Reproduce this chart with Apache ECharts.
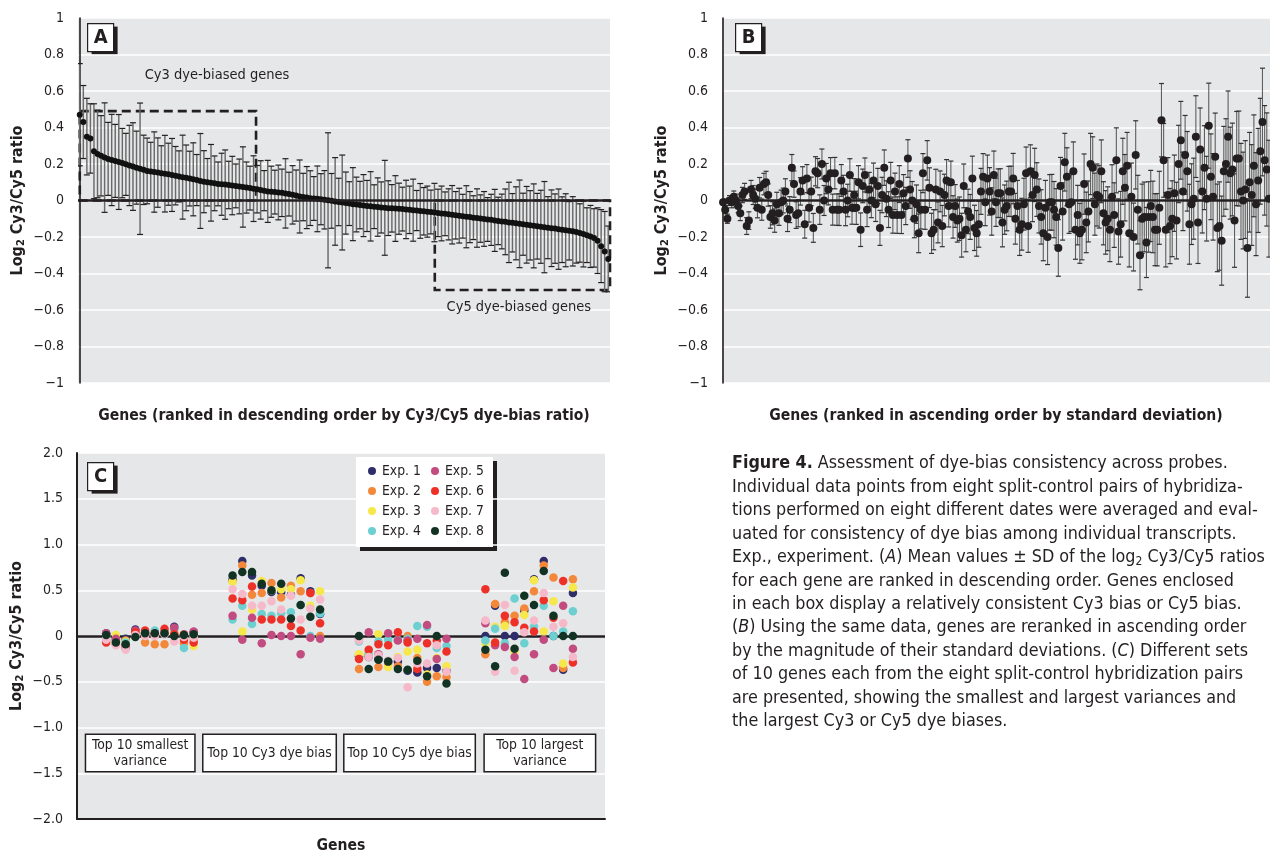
<!DOCTYPE html>
<html><head><meta charset="utf-8">
<script src="https://cdn.jsdelivr.net/npm/echarts/dist/echarts.min.js"></script>
<style>html,body{margin:0;padding:0;background:#fff}#c{width:1270px;height:855px}</style>
</head><body><div id="c"></div><script>
// ---------- DATA ----------
// Panel A: genes ranked by mean log2 Cy3/Cy5 (descending)
const aMean = [0.47,0.43,0.35,0.34,0.27,0.255,0.245,0.235,0.228,0.222,
0.217,0.211,0.205,0.198,0.192,0.186,0.18,0.174,0.168,0.162,
0.159,0.156,0.153,0.15,0.147,0.144,0.14,0.136,0.132,0.128,
0.124,0.12,0.116,0.112,0.107,0.103,0.1,0.097,0.094,0.091,
0.089,0.087,0.085,0.082,0.08,0.077,0.074,0.071,0.068,0.065,
0.062,0.058,0.054,0.05,0.048,0.046,0.044,0.042,0.039,0.035,
0.031,0.027,0.022,0.019,0.016,0.013,0.011,0.009,0.007,0.004,
0.001,-0.002,-0.005,-0.008,-0.011,-0.014,-0.017,-0.02,-0.022,-0.025,
-0.028,-0.03,-0.032,-0.034,-0.036,-0.038,-0.04,-0.042,-0.043,-0.044,
-0.045,-0.047,-0.049,-0.051,-0.053,-0.055,-0.057,-0.059,-0.061,-0.063,
-0.066,-0.068,-0.071,-0.073,-0.076,-0.078,-0.081,-0.083,-0.086,-0.089,
-0.091,-0.094,-0.096,-0.099,-0.101,-0.104,-0.106,-0.109,-0.112,-0.115,
-0.117,-0.12,-0.122,-0.125,-0.128,-0.13,-0.133,-0.136,-0.139,-0.141,
-0.144,-0.146,-0.149,-0.152,-0.154,-0.157,-0.16,-0.163,-0.166,-0.169,
-0.173,-0.178,-0.184,-0.19,-0.197,-0.205,-0.22,-0.25,-0.28,-0.32];
const aSD = [0.28,0.2,0.21,0.19,0.26,0.24,0.22,0.3,0.2,0.25,
0.2,0.26,0.19,0.17,0.22,0.24,0.2,0.36,0.19,0.18,
0.16,0.22,0.19,0.15,0.21,0.17,0.2,0.16,0.14,0.23,
0.18,0.15,0.2,0.14,0.26,0.17,0.13,0.21,0.15,0.12,
0.17,0.19,0.13,0.16,0.12,0.15,0.22,0.14,0.12,0.18,
0.13,0.16,0.11,0.17,0.14,0.12,0.15,0.13,0.19,0.12,
0.16,0.14,0.2,0.13,0.17,0.15,0.12,0.18,0.14,0.16,
0.37,0.15,0.24,0.13,0.26,0.17,0.12,0.2,0.15,0.13,
0.17,0.14,0.19,0.12,0.16,0.14,0.26,0.15,0.13,0.18,
0.14,0.12,0.16,0.13,0.17,0.11,0.15,0.13,0.14,0.12,
0.16,0.13,0.15,0.12,0.14,0.16,0.13,0.15,0.12,0.17,
0.14,0.12,0.16,0.13,0.15,0.12,0.14,0.17,0.13,0.15,
0.18,0.22,0.16,0.2,0.24,0.17,0.21,0.19,0.23,0.18,
0.2,0.25,0.17,0.21,0.19,0.22,0.18,0.2,0.16,0.19,
0.17,0.16,0.18,0.15,0.17,0.16,0.18,0.2,0.22,0.18];
// Dashed boxes in panel A (gene-index range, value range)
const cy3Box = {from: 0, to: 49.7, top: 0.49, bottom: 0};
const cy5Box = {from: 100.1, to: 149.5, top: 0, bottom: -0.49};
const aNotes = [{text: 'Cy3 dye-biased genes', gene: 38.7, value: 0.685},
                {text: 'Cy5 dye-biased genes', gene: 123.8, value: -0.585}];

// Panel B: genes ranked by SD (ascending)
const bMean = [-0.01,-0.05,-0.1,0.0,-0.01,0.02,0.0,-0.03,-0.07,0.03,
0.05,-0.14,-0.11,0.06,0.03,0.01,-0.04,0.07,-0.05,0.09,
0.1,0.03,-0.09,-0.07,-0.11,-0.02,-0.07,-0.01,0.0,0.05,
-0.1,-0.05,0.18,0.09,-0.08,-0.07,0.05,0.11,-0.13,0.12,
-0.04,0.05,-0.15,0.16,0.15,-0.05,0.2,0.0,0.12,0.06,
0.15,-0.05,0.15,-0.05,-0.05,0.11,0.05,-0.05,0.0,0.14,
-0.04,0.03,-0.04,0.1,-0.16,0.08,0.14,-0.05,0.06,0.0,
0.11,-0.02,0.08,-0.15,0.03,0.18,0.01,-0.05,0.11,-0.08,
0.05,-0.08,0.09,-0.08,0.04,-0.03,0.23,0.06,0.0,-0.1,
-0.02,-0.18,-0.05,0.15,-0.05,0.22,0.07,-0.18,-0.16,0.06,
-0.12,0.05,-0.14,0.03,0.11,-0.03,0.1,-0.09,-0.03,-0.11,
-0.1,-0.19,0.08,-0.16,-0.06,-0.09,0.12,-0.15,-0.18,-0.13,
0.05,0.13,-0.01,0.12,
0.05,-0.06,0.14,-0.01,0.04,0.04,-0.12,-0.05,-0.03,0.05,
0.05,0.12,-0.1,-0.03,-0.16,-0.13,-0.02,0.15,-0.14,0.16,
0.03,0.14,0.06,-0.03,-0.09,-0.18,-0.04,-0.2,-0.01,-0.01,
-0.05,-0.09,-0.26,0.08,-0.06,0.21,0.13,-0.02,-0.01,0.16,
-0.16,-0.08,-0.18,-0.16,0.09,-0.12,-0.06,0.2,0.18,-0.02,
0.03,0.02,0.16,-0.07,-0.12,-0.1,-0.16,0.02,-0.08,0.22,
-0.17,-0.13,0.16,0.07,0.19,-0.18,0.02,-0.2,0.25,-0.05,
-0.3,-0.1,-0.09,-0.23,-0.09,-0.03,-0.09,-0.16,-0.16,-0.04,
0.44,0.22,-0.16,0.03,-0.14,-0.1,0.04,-0.11,0.2,0.33,
0.05,0.25,0.16,-0.13,-0.02,0.01,0.35,-0.12,0.28,0.05,
0.18,0.01,0.41,0.13,0.02,0.24,-0.15,-0.14,-0.22,0.16,
0.2,0.35,0.15,0.17,-0.11,0.23,0.23,0.05,0.0,0.06,
-0.26,0.1,0.03,0.19,-0.02,0.11,0.27,0.43,0.22,0.17,
0.01];
const bSD = [0.02,0.022,0.025,0.027,0.03,0.032,0.035,0.037,0.04,0.042,
0.044,0.046,0.048,0.05,0.052,0.053,0.055,0.056,0.058,0.059,
0.06,0.061,0.062,0.063,0.064,0.065,0.066,0.067,0.068,0.069,
0.07,0.071,0.072,0.072,0.073,0.074,0.075,0.075,0.076,0.077,
0.078,0.078,0.079,0.08,0.08,0.081,0.082,0.082,0.083,0.084,
0.085,0.085,0.086,0.086,0.087,0.087,0.088,0.088,0.089,0.089,
0.09,0.09,0.091,0.091,0.092,0.092,0.093,0.093,0.094,0.094,
0.095,0.095,0.096,0.096,0.097,0.097,0.098,0.098,0.099,0.099,
0.1,0.1,0.101,0.101,0.102,0.102,0.103,0.103,0.104,0.104,
0.105,0.106,0.106,0.107,0.108,0.108,0.109,0.11,0.11,0.111,
0.112,0.112,0.113,0.114,0.114,0.115,0.116,0.116,0.117,0.118,
0.119,0.12,0.12,0.121,0.122,0.123,0.123,0.124,0.125,0.126,
0.126,0.127,0.128,0.129,0.13,0.13,0.131,0.132,0.133,0.134,
0.134,0.135,0.136,0.137,0.138,0.138,0.139,0.14,0.141,0.142,
0.142,0.143,0.144,0.145,0.146,0.146,0.147,0.148,0.149,0.15,
0.15,0.151,0.152,0.153,0.154,0.155,0.155,0.156,0.157,0.158,
0.159,0.16,0.16,0.161,0.162,0.163,0.164,0.165,0.165,0.166,
0.167,0.168,0.169,0.17,0.17,0.171,0.172,0.173,0.174,0.175,
0.175,0.176,0.177,0.178,0.179,0.18,0.181,0.182,0.183,0.184,
0.185,0.186,0.187,0.188,0.189,0.19,0.191,0.192,0.193,0.195,
0.196,0.197,0.198,0.2,0.201,0.202,0.204,0.205,0.206,0.208,
0.209,0.21,0.212,0.213,0.215,0.216,0.218,0.219,0.221,0.222,
0.224,0.225,0.227,0.228,0.23,0.232,0.233,0.235,0.237,0.239,
0.24,0.242,0.244,0.246,0.248,0.25,0.252,0.254,0.256,0.258,
0.26,0.263,0.265,0.268,0.27,0.273,0.276,0.279,0.282,0.285,
0.29,0.295,0.3,0.31,0.32];

// Panel C: 4 groups x 10 genes, 8 experiments
const cGroups = ['Top 10 smallest\nvariance', 'Top 10 Cy3 dye bias', 'Top 10 Cy5 dye bias', 'Top 10 largest\nvariance'];
const cGroupLabelPos = [6.5, 19.8, 34.2, 47.6];
const cGroupLabelWidth = [111, 135, 133, 113];
const expNames = ['Exp. 1','Exp. 2','Exp. 3','Exp. 4','Exp. 5','Exp. 6','Exp. 7','Exp. 8'];
const exp1 = [0.03,-0.04,-0.03,0.07,0.04,0.02,0.03,0.1,0.0,0.04,
  0.62,0.82,0.66,0.55,0.48,0.48,0.45,0.63,0.49,0.24,
  -0.22,-0.23,-0.25,-0.28,-0.28,-0.38,-0.4,-0.35,-0.35,-0.38,
  0.0,0.33,0.0,0.0,0.28,0.62,0.82,0.0,-0.37,0.47];
const exp2 = [-0.05,-0.06,-0.05,0.02,-0.07,-0.09,-0.09,0.03,-0.08,-0.03,
  0.6,0.77,0.45,0.47,0.58,0.42,0.55,0.49,0.47,0.0,
  -0.36,-0.2,-0.34,-0.3,-0.33,0.0,-0.24,-0.5,-0.44,-0.45,
  -0.2,0.35,0.15,0.22,0.3,0.49,0.77,0.64,-0.35,0.62];
const exp3 = [0.0,0.01,-0.06,0.0,0.03,0.02,0.05,0.04,0.02,-0.11,
  0.59,0.05,0.29,0.6,0.5,0.51,0.51,0.61,0.33,0.49,
  -0.2,-0.18,0.02,-0.34,-0.23,-0.17,-0.15,-0.42,-0.24,-0.33,
  -0.08,0.1,0.11,-0.17,0.23,0.61,0.05,0.38,-0.3,0.53];
const exp4 = [-0.02,-0.05,-0.07,0.03,0.03,0.06,0.02,0.08,-0.13,0.0,
  0.18,0.33,0.13,0.24,0.22,0.25,0.26,0.34,0.0,0.25,
  -0.06,-0.2,-0.06,-0.04,-0.04,-0.03,0.11,0.1,-0.13,-0.11,
  -0.05,0.08,-0.08,0.41,-0.08,0.1,0.33,0.0,0.05,0.27];
const exp5 = [0.03,-0.03,-0.13,0.06,0.02,0.03,0.04,0.09,0.02,0.05,
  0.22,-0.04,0.2,-0.08,0.01,0.0,0.0,-0.2,-0.02,-0.03,
  -0.03,0.04,-0.2,0.03,-0.05,-0.05,-0.03,0.12,-0.25,-0.03,
  0.14,-0.1,-0.12,-0.23,-0.47,-0.2,-0.04,-0.35,0.33,-0.14];
const exp6 = [-0.07,-0.09,-0.1,0.04,0.06,0.02,0.08,0.02,-0.04,-0.07,
  0.41,0.39,0.54,0.18,0.18,0.18,0.11,0.06,0.47,0.14,
  -0.25,-0.15,-0.09,-0.1,0.04,-0.07,-0.36,-0.08,-0.05,-0.17,
  0.51,-0.07,0.22,0.15,0.09,0.05,0.39,0.2,0.6,-0.29];
const exp7 = [-0.04,-0.1,-0.15,0.01,0.0,0.0,0.02,-0.06,-0.01,-0.02,
  0.51,0.46,0.33,0.33,0.38,0.29,0.44,0.18,0.3,0.4,
  -0.05,-0.23,-0.21,-0.27,-0.24,-0.56,-0.3,-0.3,-0.1,-0.39,
  0.17,-0.39,0.34,-0.38,0.04,0.17,0.47,0.1,0.14,-0.23];
const exp8 = [0.01,-0.07,-0.09,-0.01,0.03,0.03,0.03,0.0,0.01,0.02,
  0.66,0.7,0.7,0.57,0.5,0.57,0.19,0.34,0.21,0.29,
  0.0,-0.36,-0.26,-0.28,-0.36,-0.37,-0.27,-0.44,0.0,-0.52,
  -0.15,-0.33,0.69,-0.14,0.44,0.34,0.71,0.22,0.0,0.0];
const cExps = [exp1, exp2, exp3, exp4, exp5, exp6, exp7, exp8];

const captionLines = [
  '{b|Figure 4.} Assessment of dye-bias consistency across probes.',
  'Individual data points from eight split-control pairs of hybridiza-',
  'tions performed on eight different dates were averaged and eval-',
  'uated for consistency of dye bias among individual transcripts.',
  'Exp., experiment. ({i|A}) Mean values ± SD of the log{s|2} Cy3/Cy5 ratios',
  'for each gene are ranked in descending order. Genes enclosed',
  'in each box display a relatively consistent Cy3 bias or Cy5 bias.',
  '({i|B}) Using the same data, genes are reranked in ascending order',
  'by the magnitude of their standard deviations. ({i|C}) Different sets',
  'of 10 genes each from the eight split-control hybridization pairs',
  'are presented, showing the smallest and largest variances and',
  'the largest Cy3 or Cy5 dye biases.'
];

// ---------- STYLE ----------
const FONT = '"Liberation Sans Narrow","Arial Narrow","DejaVu Sans Condensed",sans-serif';
const INK = '#231f20';
const BG = '#e6e7e8';
const expColors = ['#2e2d6a','#f4883a','#f6e84a','#6ccfd0','#c24c80','#ee3128','#f5b9c9','#123324'];
const CAP = 17.8;

const chart = echarts.init(document.getElementById('c'), null, {renderer: 'canvas'});

const fmt1 = v => {
  if (Math.abs(v) < 1e-9) return '0';
  const a = Math.abs(v);
  const s = Math.abs(a - 1) < 1e-9 ? '1' : a.toFixed(1);
  return (v < 0 ? '\u2212' : '') + s;
};
const fmtC = v => Math.abs(v) < 1e-9 ? '0' : (v < 0 ? '\u2212' : '') + Math.abs(v).toFixed(1);

const yName = '{n|Log}{s|2}{n| Cy3/Cy5 ratio}';
const yNameStyle = {
  fontFamily: FONT, fontWeight: 'bold', fontSize: 16, color: INK,
  rich: {
    n: {fontFamily: FONT, fontWeight: 'bold', fontSize: 16, color: INK},
    s: {fontFamily: FONT, fontWeight: 'bold', fontSize: 11, color: INK, padding: [8, 0, 0, 0]}
  }
};
const xNameStyle = {fontFamily: FONT, fontWeight: 'bold', fontSize: 15.6, color: INK};
const tickLabel = (f) => ({formatter: f, fontFamily: FONT, fontSize: 14, color: INK, margin: 14});

function errRenderer(capW, lineColor, capColor, lw) {
  return function (params, api) {
    const x = api.value(0), lo = api.value(1), hi = api.value(2);
    const p1 = api.coord([x, hi]), p2 = api.coord([x, lo]);
    return {
      type: 'group',
      children: [
        {type: 'line', shape: {x1: p1[0], y1: p1[1], x2: p2[0], y2: p2[1]}, style: {stroke: lineColor, lineWidth: lw}},
        {type: 'line', shape: {x1: p1[0] - capW / 2, y1: p1[1], x2: p1[0] + capW / 2, y2: p1[1]}, style: {stroke: capColor, lineWidth: 1.2}},
        {type: 'line', shape: {x1: p2[0] - capW / 2, y1: p2[1], x2: p2[0] + capW / 2, y2: p2[1]}, style: {stroke: capColor, lineWidth: 1.2}}
      ]
    };
  };
}

const aErr = aMean.map((m, i) => [i, m - aSD[i], m + aSD[i]]);
const aPts = aMean.map((m, i) => [i, m]);
const bErr = bMean.map((m, i) => [i, m - bSD[i], m + bSD[i]]);
const bPts = bMean.map((m, i) => [i, m]);
// C: gene slot position = 3 + group*13 + gene index within group
const cPos = i => 3 + Math.floor(i / 10) * 13 + (i % 10);

const zeroLine = {
  silent: true, symbol: 'none', label: {show: false},
  lineStyle: {color: INK, width: 2.6, type: 'solid', opacity: 1},
  data: [{yAxis: 0}]
};

function panelLabel(letter, x, y) {
  return {
    type: 'group', left: x, top: y, z: 50,
    children: [
      {type: 'rect', shape: {x: 4, y: 3, width: 26, height: 28}, style: {fill: INK}},
      {type: 'rect', shape: {x: 0, y: 0, width: 26, height: 28}, style: {fill: '#fff', stroke: INK, lineWidth: 1.2}},
      {type: 'text', style: {text: letter, x: 13, y: 14.5, align: 'center', verticalAlign: 'middle',
        fontFamily: FONT, fontWeight: 'bold', fontSize: 20, fill: INK}}
    ]
  };
}

const series = [];
// Panel A
series.push({
  type: 'custom', xAxisIndex: 0, yAxisIndex: 0, renderItem: errRenderer(6, '#6a6a6a', INK, 1.45),
  data: aErr, encode: {x: 0, y: [1, 2]}, clip: true, silent: true, z: 2
});
series.push({
  type: 'scatter', xAxisIndex: 0, yAxisIndex: 0, data: aPts, symbolSize: 6,
  itemStyle: {color: '#111', opacity: 1}, silent: true, z: 4,
  markLine: zeroLine,
  markArea: {
    silent: true,
    itemStyle: {color: 'rgba(0,0,0,0)', borderColor: INK, borderWidth: 2.6, borderType: [9, 5], opacity: 1},
    data: [
      [{xAxis: cy3Box.from, yAxis: cy3Box.top}, {xAxis: cy3Box.to, yAxis: cy3Box.bottom}],
      [{xAxis: cy5Box.from, yAxis: cy5Box.top}, {xAxis: cy5Box.to, yAxis: cy5Box.bottom}]
    ]
  }
});
series.push({
  type: 'scatter', xAxisIndex: 0, yAxisIndex: 0, symbolSize: 0, silent: true, z: 5,
  itemStyle: {opacity: 1},
  data: aNotes.map(n => ({value: [n.gene, n.value], name: n.text})),
  label: {show: true, position: 'inside', formatter: p => p.name, fontFamily: FONT, fontSize: 14.5,
    color: INK, opacity: 1, textBorderWidth: 0}
});
// Panel B
series.push({
  type: 'custom', xAxisIndex: 1, yAxisIndex: 1, renderItem: errRenderer(5, '#5e5e5e', '#333', 1.1),
  data: bErr, encode: {x: 0, y: [1, 2]}, clip: true, silent: true, z: 2
});
series.push({
  type: 'scatter', xAxisIndex: 1, yAxisIndex: 1, data: bPts, symbolSize: 8,
  itemStyle: {color: INK, opacity: 1}, silent: true, z: 4, markLine: zeroLine
});
// Panel C
cExps.forEach((arr, k) => {
  series.push({
    type: 'scatter', name: expNames[k], xAxisIndex: 2, yAxisIndex: 2, symbolSize: 8.5,
    itemStyle: {color: expColors[k], opacity: 1}, silent: true, z: 4 + k * 0.01,
    data: arr.map((v, i) => [cPos(i), v]),
    markLine: k === 0 ? Object.assign({}, zeroLine, {z: 3}) : undefined
  });
});
series.push({
  type: 'scatter', xAxisIndex: 2, yAxisIndex: 2, symbolSize: 0, silent: true, z: 6,
  itemStyle: {opacity: 1},
  data: cGroups.map((g, i) => ({
    value: [cGroupLabelPos[i], -1.28], name: g,
    label: {width: cGroupLabelWidth[i] - 3}
  })),
  label: {
    show: true, position: 'inside', formatter: p => p.name, opacity: 1,
    fontFamily: FONT, fontSize: 13.8, lineHeight: 16, color: INK, align: 'center',
    backgroundColor: '#fff', borderColor: INK, borderWidth: 1.5, textBorderWidth: 0,
    height: 36, padding: [0, 0, 0, 0], verticalAlign: 'middle'
  }
});

const legendCommon = {
  orient: 'vertical', icon: 'circle', itemWidth: 8, itemHeight: 8, itemGap: 6,
  selectedMode: false, padding: 0, z: 60,
  textStyle: {fontFamily: FONT, fontSize: 13.8, color: INK, padding: [0, 0, 0, 1]}
};

const option = {
  animation: false,
  backgroundColor: '#fff',
  grid: [
    {left: 78, top: 18, width: 532, height: 365, show: true, backgroundColor: BG, borderWidth: 0},
    {left: 722, top: 18, width: 548, height: 365, show: true, backgroundColor: BG, borderWidth: 0},
    {left: 77, top: 453, width: 528, height: 373, show: true, backgroundColor: BG, borderWidth: 0}
  ],
  xAxis: [
    {gridIndex: 0, type: 'value', min: -0.5, max: aMean.length - 0.5,
      axisLine: {show: false}, axisTick: {show: false}, axisLabel: {show: false}, splitLine: {show: false},
      name: 'Genes (ranked in descending order by Cy3/Cy5 dye-bias ratio)', nameLocation: 'middle', nameGap: 25,
      nameTextStyle: xNameStyle},
    {gridIndex: 1, type: 'value', min: -0.5, max: bMean.length - 0.5,
      axisLine: {show: false}, axisTick: {show: false}, axisLabel: {show: false}, splitLine: {show: false},
      name: 'Genes (ranked in ascending order by standard deviation)', nameLocation: 'middle', nameGap: 25,
      nameTextStyle: xNameStyle},
    {gridIndex: 2, type: 'value', min: 0, max: 54.3,
      axisLine: {show: true, onZero: false, lineStyle: {color: INK, width: 2}}, axisTick: {show: false},
      axisLabel: {show: false}, splitLine: {show: false},
      name: 'Genes', nameLocation: 'middle', nameGap: 19, nameTextStyle: xNameStyle}
  ],
  yAxis: [
    {gridIndex: 0, type: 'value', min: -1, max: 1, interval: 0.2,
      axisLine: {show: true, lineStyle: {color: INK, width: 1.6}}, axisTick: {show: false},
      axisLabel: tickLabel(fmt1), splitLine: {show: true, lineStyle: {color: '#fff', width: 1.5}},
      name: yName, nameLocation: 'middle', nameRotate: 90, nameGap: 51, nameTextStyle: yNameStyle},
    {gridIndex: 1, type: 'value', min: -1, max: 1, interval: 0.2,
      axisLine: {show: true, lineStyle: {color: INK, width: 1.6}}, axisTick: {show: false},
      axisLabel: tickLabel(fmt1), splitLine: {show: true, lineStyle: {color: '#fff', width: 1.5}},
      name: yName, nameLocation: 'middle', nameRotate: 90, nameGap: 51, nameTextStyle: yNameStyle},
    {gridIndex: 2, type: 'value', min: -2, max: 2, interval: 0.5,
      axisLine: {show: true, lineStyle: {color: INK, width: 2}}, axisTick: {show: false},
      axisLabel: tickLabel(fmtC), splitLine: {show: true, lineStyle: {color: '#fff', width: 1.5}},
      name: yName, nameLocation: 'middle', nameRotate: 90, nameGap: 51, nameTextStyle: yNameStyle}
  ],
  legend: [
    Object.assign({}, legendCommon, {left: 368, top: 464, data: expNames.slice(0, 4)}),
    Object.assign({}, legendCommon, {left: 431, top: 464, data: expNames.slice(4, 8)})
  ],
  graphic: [
    panelLabel('A', 87, 23),
    panelLabel('B', 735, 23),
    panelLabel('C', 87, 462),
    {type: 'group', left: 356, top: 457, z: 40, children: [
      {type: 'rect', shape: {x: 4, y: 4, width: 137, height: 90}, style: {fill: INK}},
      {type: 'rect', shape: {x: 0, y: 0, width: 137, height: 90}, style: {fill: '#fff'}}
    ]},
    {type: 'text', left: 732, top: 452, z: 40,
      style: {
        text: captionLines.join('\n'),
        fontFamily: FONT, fontSize: CAP, fill: INK, lineHeight: 23.45,
        rich: {
          b: {fontFamily: FONT, fontSize: CAP, fontWeight: 'bold', fill: INK, lineHeight: 23.45},
          i: {fontFamily: FONT, fontSize: CAP, fontStyle: 'italic', fill: INK, lineHeight: 23.45},
          s: {fontFamily: FONT, fontSize: 12, fill: INK, lineHeight: 12, padding: [8, 0, 0, 0]}
        }
      }}
  ],
  series: series
};
chart.setOption(option);
</script></body></html>
